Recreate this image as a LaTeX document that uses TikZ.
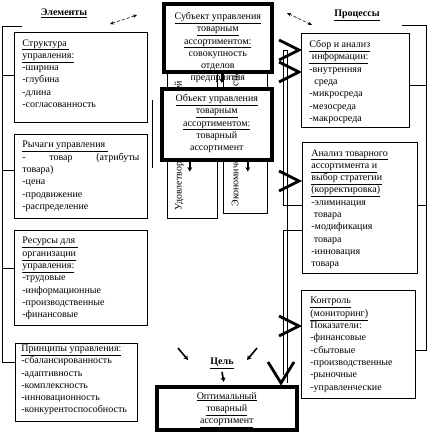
\documentclass[tikz,border=0pt]{standalone}
\usepackage{fontspec}
\setmainfont{Liberation Serif}
\usetikzlibrary{arrows.meta}
\newcommand{\boxtxt}[3]{\parbox[t][#2][t]{#1}{\raggedright #3}}
\newcommand{\cboxtxt}[3]{\parbox[t][#2][t]{#1}{\centering #3}}
\begin{document}
\begin{tikzpicture}[x=1pt, y=-1pt,
    every node/.style={font=\fontsize{10}{12.3}\selectfont},
    elem/.style={draw, line width=0.8pt, anchor=north west, inner xsep=8pt, inner ysep=7pt},
    mainbox/.style={draw, line width=3.6pt, anchor=north west, fill=white, inner xsep=4pt, inner ysep=5.5pt},
    vbox/.style={draw, line width=0.8pt, anchor=north west, inner sep=0pt},
    hdr/.style={font=\fontsize{10}{12}\selectfont\bfseries},
    link/.style={line width=0.8pt},
    chev/.style={line width=2.8pt, miter limit=10},
    sarr/.style={line width=1.6pt, -{Stealth[length=4.5pt,width=5pt]}},
    darr/.style={line width=0.6pt, densely dashed, {Stealth[length=4pt,width=3.5pt]}-{Stealth[length=4pt,width=3.5pt]}}]
    \useasboundingbox (0,0) rectangle (429,436);

    % Заголовки
    \node[hdr] (elemhdr) at (64,13) {\underline{Элементы}};
    \node[hdr] (prochdr) at (357,15) {\underline{Процессы}};
    \coordinate (da1) at (110,24);
    \coordinate (da2) at (137,15);
    \draw[darr] (da1) -- (da2);
    \coordinate (da3) at (287,13);
    \coordinate (da4) at (312,25);
    \draw[darr] (da3) -- (da4);

    % Элементы
    \node[elem] (strukt) at (14,32) {\boxtxt{117pt}{76pt}{\underline{Структура }\\\underline{управления:}\\-ширина\\-глубина\\-длина\\-согласованность}};
    \node[elem] (rychag) at (14,134) {\boxtxt{117pt}{70pt}{\underline{Рычаги управления }\\-\hfill товар\hfill (атрибуты\\товара)\\-цена\\-продвижение\\-распределение}};
    \node[elem] (resurs) at (14,230) {\boxtxt{117pt}{81pt}{\underline{Ресурсы для }\\\underline{организации}\\\underline{управления:}\\-трудовые\\-информационные\\-производственные\\-финансовые}};
    \node[elem, inner xsep=6pt, inner ysep=1.5pt] (princ) at (15,343) {\boxtxt{110pt}{75pt}{\underline{Принципы управления:}\\-сбалансированность\\-адаптивность\\-комплексность\\-инновационность\\-конкурентоспособность}};

    % левая скобка
    \coordinate (lbtop) at (22,26);
    \coordinate (lb) at (2,26);
    \draw[link] (lbtop) -- (lb) |- ([yshift=20pt]princ.west);
    \draw[link] ([yshift=2pt]strukt.west) -| (lb);
    \draw[link] ([yshift=6pt]rychag.west) -| (lb);
    \draw[link] ([yshift=10pt]resurs.west) -| (lb);
    \coordinate (sidetop) at (152,100);
    \coordinate (sidebot) at (152,168);
    \draw[link] (sidetop) -- (sidebot);

    % Процессы
    \node[elem] (sbor) at (301,33) {\boxtxt{92pt}{80pt}{\underline{Сбор и анализ}\\\underline{\ информации:}\\-внутренняя\\\ \ среда\\-микросреда\\-мезосреда\\-макросреда}};
    \node[elem, inner xsep=9pt] (analiz) at (302,142) {\boxtxt{97pt}{117pt}{\underline{Анализ товарного}\\\underline{ассортимента и}\\\underline{выбор стратегии}\\\underline{(корректировка)}\\-элиминация\\\ товара\\-модификация\\\ товара\\-инновация\\товара}};
    \node[elem, inner xsep=9pt] (kontr) at (301,290) {\boxtxt{96pt}{94pt}{\underline{Контроль}\\\underline{(мониторинг)}\\Показатели:\\-финансовые\\-сбытовые\\-производственные\\-рыночные\\-управленческие}};

    % правая скобка
    \coordinate (rbtop) at (402,25);
    \coordinate (rb) at (426,25);
    \draw[link] (rbtop) -- (rb) |- ([yshift=-6pt]kontr.east);
    \draw[link] ([yshift=-5pt]sbor.east) -| (rb);
    \draw[link] ([yshift=2.5pt]analiz.east) -| (rb);

    % вертикальные блоки
    \node[vbox, minimum width=50pt, minimum height=146pt] (udov) at (167,72) {};
    \node[vbox, minimum width=44pt, minimum height=141pt] (econ) at (223,72) {};
    \node[rotate=90, anchor=west] (udovtxt) at (179,214) {Удовлетворение потребностей};
    \node[rotate=90, anchor=west] (econtxt) at (236,210) {Экономическая эффективность};

    % стрелка процессов
    \coordinate (trtop) at (283,50);
    \coordinate (trtop2) at (287,50);
    \coordinate (trbot) at (283,375);
    \coordinate (trbot2) at (287,383);
    \draw[link] (trtop2) -- (trtop) |- ([yshift=2.5pt]analiz.west);
    \draw[link] (trtop2) -- (trbot2);
    \draw[link] ([yshift=-22.5pt]analiz.west) -| (trbot);
    \foreach \cy in {50,72,181,326}
        \draw[chev] (279,\cy-10) -- (299,\cy) -- (279,\cy+10);
    \draw[chev] (268,362) -- (281,383) -- (294,362);

    % Субъект
    \node[mainbox, inner ysep=8.5pt] (subj) at (162,2) {\cboxtxt{100pt}{51pt}{\underline{Субъект управления}\\\underline{товарным}\\\underline{ассортиментом:}\\совокупность\\отделов\\предприятия}};

    % Объект
    \node[mainbox] (obj) at (160,87) {\cboxtxt{102pt}{60pt}{\underline{Объект управления}\\\underline{товарным}\\\underline{ассортиментом:}\\товарный\\ассортимент}};
    \draw[sarr] ([xshift=4pt]subj.south) -- ([xshift=5pt,yshift=4pt]obj.north);
    \draw[sarr] ([xshift=-27pt]obj.south) -- ++(0,10);
    \draw[sarr] ([xshift=31pt]obj.south) -- ++(0,10);

    % Цель
    \node[hdr] (tsel) at (222,363) {\underline{Цель}};
    \node[mainbox] (opt) at (155,385) {\cboxtxt{132pt}{32pt}{\underline{Оптимальный}\\\underline{товарный}\\\underline{ассортимент}}};
    \coordinate (ta1) at (178,348);
    \coordinate (ta2) at (257,348);
    \draw[sarr] (ta1) -- ++(10,12);
    \draw[sarr] (ta2) -- ++(-10,12);
    \draw[sarr] (tsel.south) -- ([xshift=-3pt,yshift=3pt]opt.north);
\end{tikzpicture}
\end{document}
